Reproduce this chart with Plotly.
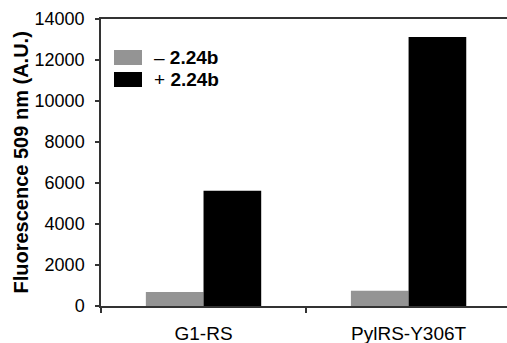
import plotly.graph_objects as go

categories = ["G1-RS", "PylRS-Y306T"]
minus_vals = [680, 750]
plus_vals = [5620, 13120]
series_names = ["\u2013 <b>2.24b</b>", "+ <b>2.24b</b>"]
series_colors = ["#949494", "#000000"]
y_title = "Fluorescence 509 nm (A.U.)"

W, H = 507, 343
ML, MR, MT, MB = 101, 0, 19, 37
PW, PH = W - ML - MR, H - MT - MB

FONT = "Liberation Sans, Arial, sans-serif"

fig = go.Figure()
for name, vals, col in zip(series_names, [minus_vals, plus_vals], series_colors):
    fig.add_trace(go.Bar(x=categories, y=vals, name=name, marker_color=col,
                         marker_line_width=0, showlegend=False))

fig.update_layout(
    width=W, height=H,
    margin=dict(l=ML, r=MR, t=MT, b=MB),
    barmode="group", bargap=0.4375, bargroupgap=0,
    plot_bgcolor="white", paper_bgcolor="white",
    font=dict(family=FONT, size=18, color="black"),
)
fig.update_xaxes(
    range=[-0.5, 1.48], showline=True, linecolor="#333333", linewidth=1.5,
    mirror=True, ticks="outside", ticklen=5, tickcolor="#333333", tickwidth=1.5,
    tickson="boundaries", showgrid=False, tickfont=dict(size=19, color="black"),
    ticklabelstandoff=9, automargin=False,
)
fig.update_yaxes(
    range=[0, 14000], dtick=2000, tickformat="d", showline=True,
    linecolor="#333333", linewidth=1.5,
    ticks="outside", ticklen=4, tickcolor="#333333", tickwidth=1.5,
    showgrid=False, zeroline=False, tickfont=dict(size=18, color="black"),
    ticklabelstandoff=7, automargin=False,
)

# y-axis title
fig.add_annotation(text="<b>%s</b>" % y_title, textangle=-90, xref="paper", yref="paper",
                   x=0, y=0.5, xanchor="center", yanchor="middle", xshift=20 - ML,
                   showarrow=False, font=dict(size=20, family=FONT))

# legend (drawn manually to match swatch size)
def px2x(px):
    return (px - ML) / PW

def px2y(py):
    return (H - MB - py) / PH

legend_rows = [(50, 65), (72, 87)]
for (y0, y1), name, col in zip(legend_rows, series_names, series_colors):
    fig.add_shape(type="rect", xref="paper", yref="paper",
                  x0=px2x(114), x1=px2x(142), y0=px2y(y1), y1=px2y(y0),
                  fillcolor=col, line_width=0)
    fig.add_annotation(text=name, xref="paper", yref="paper", x=px2x(152),
                       y=px2y((y0 + y1) / 2), xanchor="left", yanchor="middle",
                       showarrow=False, font=dict(size=19, family=FONT))

fig.write_html("out.html")
